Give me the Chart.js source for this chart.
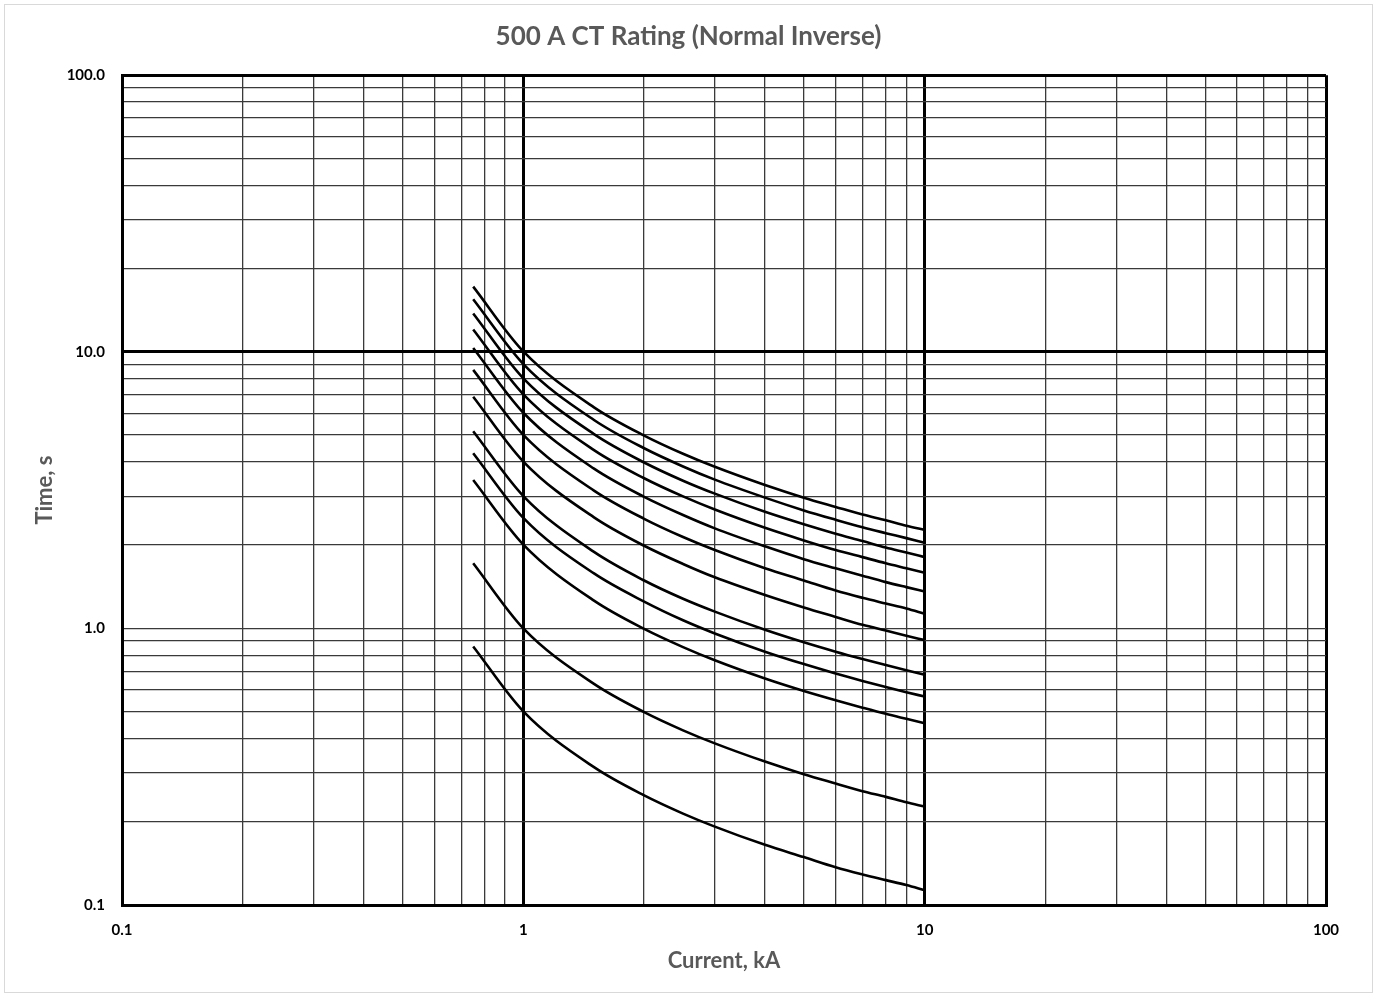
<!DOCTYPE html>
<html>
<head>
<meta charset="utf-8">
<script src="https://cdn.jsdelivr.net/npm/chart.js@4/dist/chart.umd.min.js"></script>
<style>
  html, body { margin: 0; padding: 0; background: #fff; }
  #wrap { width: 1377px; height: 997px; }
</style>
</head>
<body>
<div id="wrap"><canvas id="ctChart" width="1377" height="997"></canvas></div>
<script>
// current points, kA (same for every curve)
var currentKA = [0.75, 1, 1.5, 2, 2.5, 3, 4, 5, 6, 7, 8, 9, 10];

// trip times, s  (one curve per time multiplier)
var tms100 = [17.2, 10.03, 6.30, 4.98, 4.28, 3.84, 3.30, 2.97, 2.75, 2.58, 2.46, 2.35, 2.27];
var tms090 = [15.48, 9.03, 5.67, 4.48, 3.85, 3.45, 2.97, 2.67, 2.47, 2.32, 2.21, 2.12, 2.04];
var tms080 = [13.76, 8.02, 5.04, 3.98, 3.42, 3.07, 2.64, 2.38, 2.20, 2.07, 1.96, 1.88, 1.81];
var tms070 = [12.04, 7.02, 4.41, 3.49, 3.00, 2.69, 2.31, 2.08, 1.92, 1.81, 1.72, 1.65, 1.59];
var tms060 = [10.32, 6.02, 3.78, 2.99, 2.57, 2.30, 1.98, 1.78, 1.65, 1.55, 1.47, 1.41, 1.36];
var tms050 = [8.60, 5.01, 3.15, 2.49, 2.14, 1.92, 1.65, 1.49, 1.37, 1.29, 1.23, 1.18, 1.13];
var tms040 = [6.88, 4.01, 2.52, 1.99, 1.71, 1.53, 1.32, 1.19, 1.10, 1.03, 0.982, 0.941, 0.907];
var tms030 = [5.16, 3.01, 1.89, 1.49, 1.28, 1.15, 0.989, 0.891, 0.824, 0.775, 0.737, 0.706, 0.680];
var tms025 = [4.30, 2.51, 1.58, 1.25, 1.07, 0.959, 0.824, 0.743, 0.687, 0.646, 0.614, 0.588, 0.567];
var tms020 = [3.44, 2.01, 1.26, 0.996, 0.856, 0.767, 0.659, 0.594, 0.550, 0.517, 0.491, 0.471, 0.454];
var tms010 = [1.72, 1.00, 0.630, 0.498, 0.428, 0.384, 0.330, 0.297, 0.275, 0.258, 0.246, 0.235, 0.227];
var tms005 = [0.860, 0.501, 0.315, 0.249, 0.214, 0.192, 0.165, 0.149, 0.137, 0.129, 0.123, 0.118, 0.113];

var curves = [tms100, tms090, tms080, tms070, tms060, tms050, tms040, tms030, tms025, tms020, tms010, tms005];

// axis ticks
var xTickLabels = {0.1: '0.1', 1: '1', 10: '10', 100: '100'};
var yTickLabels = {0.1: '0.1', 1: '1.0', 10: '10.0', 100: '100.0'};
var xMajor = [0.1, 1, 10, 100];
var yMajor = [0.1, 10, 100];

function logGrid(lo, hi) {
  var out = [];
  for (var d = lo; d < hi * 0.999; d *= 10) {
    for (var m = 1; m < 10; m++) out.push(parseFloat((m * d).toPrecision(3)));
  }
  out.push(hi);
  return out;
}

function isIn(v, list) {
  for (var i = 0; i < list.length; i++) if (Math.abs(v - list[i]) < list[i] * 1e-6) return true;
  return false;
}

var datasets = curves.map(function (arr) {
  return {
    data: currentKA.map(function (x, i) { return {x: x, y: arr[i]}; }),
    borderColor: '#000',
    borderWidth: 2.6,
    pointRadius: 0,
    cubicInterpolationMode: 'monotone',
    fill: false
  };
});

var frame = {
  id: 'frame',
  beforeDraw: function (chart) {
    var c = chart.ctx;
    c.save();
    c.fillStyle = '#fff';
    c.fillRect(0, 0, chart.width, chart.height);
    c.strokeStyle = '#d9d9d9';
    c.lineWidth = 1;
    c.strokeRect(4.5, 4.5, chart.width - 9, chart.height - 9);
    c.restore();
  }
};

var ctx = document.getElementById('ctChart').getContext('2d');
var ctChart = new Chart(ctx, {
  type: 'line',
  data: { datasets: datasets },
  plugins: [frame],
  options: {
    responsive: false,
    animation: false,
    layout: { padding: { left: 20, right: 20, top: 0, bottom: 20 } },
    plugins: {
      legend: { display: false },
      tooltip: { enabled: false },
      title: {
        display: true,
        text: '500 A CT Rating (Normal Inverse)',
        color: '#595959',
        font: { family: 'Lato', size: 26, weight: 'bold' },
        padding: { top: 21, bottom: 23 }
      }
    },
    scales: {
      x: {
        type: 'logarithmic',
        min: 0.1,
        max: 100,
        afterBuildTicks: function (axis) {
          axis.ticks = logGrid(0.1, 100).map(function (v) { return {value: v}; });
        },
        afterFit: function (axis) { axis.height = 72; },
        border: { display: true, color: '#000', width: 3 },
        grid: {
          drawTicks: false,
          color: function (c) { return isIn(c.tick.value, xMajor) ? '#000' : '#3a3a3a'; },
          lineWidth: function (c) { return isIn(c.tick.value, xMajor) ? 3 : 1.3; }
        },
        ticks: {
          autoSkip: false,
          maxRotation: 0,
          padding: 16,
          color: '#000',
          font: { family: 'Lato', size: 15, weight: 'bold' },
          callback: function (v) { return xTickLabels[v] || ''; }
        },
        title: {
          display: true,
          text: 'Current, kA',
          color: '#595959',
          font: { family: 'Lato', size: 22, weight: 'bold' },
          padding: { top: 0, bottom: 3 }
        }
      },
      y: {
        type: 'logarithmic',
        min: 0.1,
        max: 100,
        afterBuildTicks: function (axis) {
          axis.ticks = logGrid(0.1, 100).map(function (v) { return {value: v}; });
        },
        afterFit: function (axis) { axis.width = 102; },
        border: { display: true, color: '#000', width: 3 },
        grid: {
          drawTicks: false,
          color: function (c) { return isIn(c.tick.value, yMajor) ? '#000' : '#3a3a3a'; },
          lineWidth: function (c) { return isIn(c.tick.value, yMajor) ? 3 : 1.3; }
        },
        ticks: {
          autoSkip: false,
          padding: 17,
          color: '#000',
          font: { family: 'Lato', size: 15, weight: 'bold' },
          callback: function (v) { return yTickLabels[v] || ''; }
        },
        title: {
          display: true,
          text: 'Time, s',
          color: '#595959',
          font: { family: 'Lato', size: 22, weight: 'bold' },
          padding: { top: 12, bottom: 0 }
        }
      },
      // empty right-hand spacer so the title centres on the whole canvas
      yRight: {
        type: 'linear',
        position: 'right',
        display: true,
        grid: { display: false, drawTicks: false },
        border: { display: false },
        ticks: { display: false },
        afterFit: function (axis) { axis.width = 31; }
      }
    }
  }
});
</script>
</body>
</html>
